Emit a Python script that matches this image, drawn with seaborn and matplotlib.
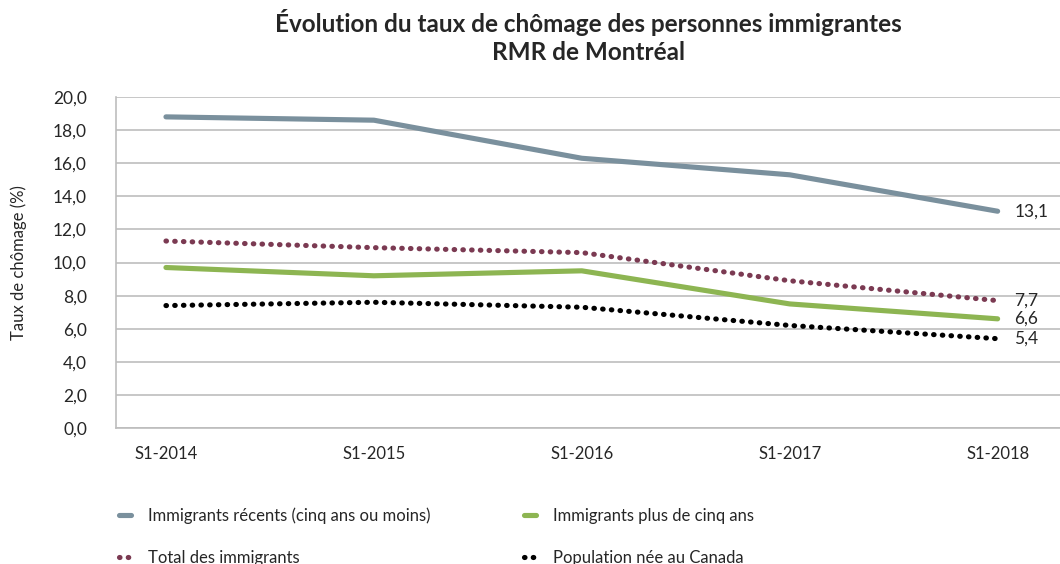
import pandas as pd
import matplotlib.pyplot as plt
import seaborn as sns

periodes = ['S1-2014', 'S1-2015', 'S1-2016', 'S1-2017', 'S1-2018']
recents = [18.8, 18.6, 16.3, 15.3, 13.1]
plus_cinq = [9.7, 9.2, 9.5, 7.5, 6.6]
total_imm = [11.3, 10.9, 10.6, 8.9, 7.7]
nes_canada = [7.4, 7.6, 7.3, 6.2, 5.4]

noms = ['Immigrants récents (cinq ans ou moins)', 'Immigrants plus de cinq ans',
        'Total des immigrants', 'Population née au Canada']
couleurs = ['#7a909d', '#8db552', '#7b3a52', '#000000']
pointille = [False, False, True, True]

df = pd.DataFrame({'Période': periodes, noms[0]: recents, noms[1]: plus_cinq,
                   noms[2]: total_imm, noms[3]: nes_canada})
long = df.melt(id_vars='Période', var_name='Série', value_name='Taux')
long['x'] = long['Période'].map({p: i for i, p in enumerate(periodes)})

sns.set_style('white')
plt.rcParams['font.family'] = ['Lato', 'DejaVu Sans']

fig = plt.figure(figsize=(10.6, 5.64), dpi=100)
ax = fig.add_axes([0.1095, 0.241, 0.8905, 0.587])

for nom, c in zip(noms, couleurs):
    sub = long[long['Série'] == nom]
    sns.lineplot(data=sub, x='x', y='Taux', color=c, lw=3.7, ax=ax, label=nom,
                 solid_capstyle='round', dash_capstyle='round')
for line, p in zip(ax.get_lines(), pointille):
    if p:
        line.set_linestyle((0, (0.1, 1.6)))

for serie in [recents, total_imm, plus_cinq, nes_canada]:
    ax.annotate(f'{serie[-1]:.1f}'.replace('.', ','), (4, serie[-1]),
                xytext=(12, 0), textcoords='offset points', va='center',
                fontsize=12.5)

ax.set_xlim(-0.24, 4.3)
ax.set_ylim(0, 20)
ax.set_yticks(range(0, 21, 2))
ax.set_yticklabels([f'{v:.1f}'.replace('.', ',') for v in range(0, 21, 2)], fontsize=12.5)
ax.set_xticks(range(5))
ax.set_xticklabels(periodes, fontsize=12)
ax.tick_params(axis='x', length=0, pad=13)
ax.tick_params(axis='y', length=0, pad=21)
ax.yaxis.grid(True, color='#bdbdbd', lw=1.2)
for s in ['top', 'right']:
    ax.spines[s].set_visible(False)
for s in ['left', 'bottom']:
    ax.spines[s].set_color('#bdbdbd')
    ax.spines[s].set_linewidth(1.2)
ax.set_xlabel('')
ax.set_ylabel('Taux de chômage (%)', fontsize=12, labelpad=19)

ax.set_title('Évolution du taux de chômage des personnes immigrantes\nRMR de Montréal',
             fontsize=17.5, fontweight='bold', pad=27, linespacing=1.25)

handles, labels = ax.get_legend_handles_labels()
ordre = [0, 2, 1, 3]
ax.legend([handles[i] for i in ordre], [labels[i] for i in ordre], ncol=2,
          loc='upper left', bbox_to_anchor=(-0.013, -0.195), frameon=False,
          fontsize=12, handlelength=0.75, columnspacing=5.6,
          labelspacing=1.55, handletextpad=1.0)

plt.savefig('out.png', dpi=100)
